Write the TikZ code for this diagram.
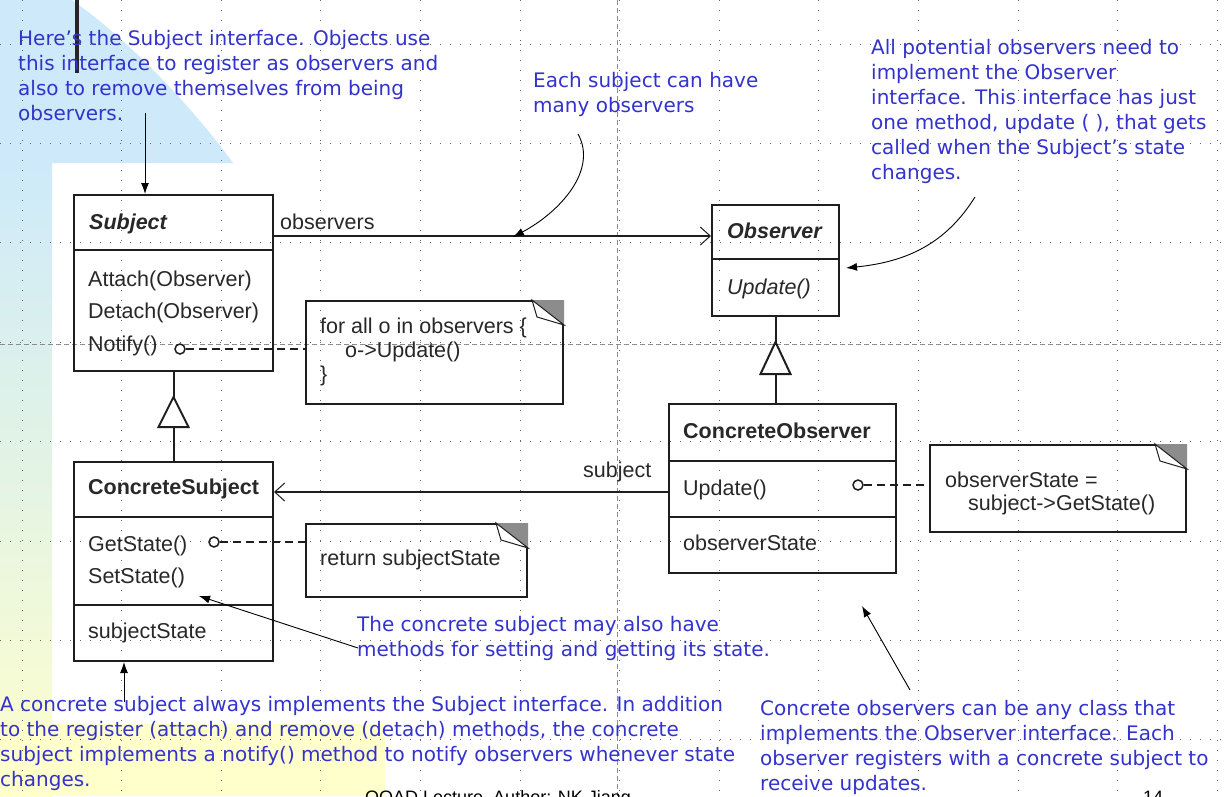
\documentclass[tikz,border=0pt]{standalone}
\usepackage{fontspec}
\setmainfont{Liberation Sans}
\newfontfamily\comicfont{DejaVu Sans}
\usetikzlibrary{arrows.meta,calc}
\definecolor{bgblue}{RGB}{206,234,250}
\definecolor{bgyellow}{RGB}{255,255,204}
\definecolor{bgmid}{RGB}{228,244,228}
\definecolor{notecol}{RGB}{51,51,204}
\definecolor{umlline}{RGB}{30,30,30}
\definecolor{umltext}{RGB}{40,40,40}
\tikzset{
  umlbox/.style={draw=umlline, line width=2pt, inner sep=0pt, anchor=north west},
  notebox/.style={draw=umlline, line width=2pt, inner sep=0pt, anchor=north west},
  umltxt/.style={anchor=base west, inner sep=0pt, text=umltext, font=\fontsize{21.5}{25}\selectfont},
  umlital/.style={umltxt, font=\fontsize{21.5}{25}\selectfont\itshape},
  umltitle/.style={umltxt, font=\fontsize{21.5}{25}\selectfont\bfseries},
  umlabs/.style={umltxt, font=\fontsize{21.5}{25}\selectfont\bfseries\itshape},
  annot/.style={anchor=north west, inner sep=0pt, align=left, text=notecol, font=\comicfont\fontsize{20}{25}\selectfont},
  callout/.style={line width=0.9pt, black, -{Latex[length=11pt,width=8pt]}},
  griddot/.style={line width=1pt, dash pattern=on 1pt off 9pt, black!60},
  guide/.style={line width=0.8pt, dash pattern=on 5pt off 3pt, black!45},
  depline/.style={line width=2pt, dash pattern=on 8pt off 5pt, umlline},
  lollipop/.style={circle, draw=umlline, line width=1.5pt, minimum size=10pt, inner sep=0pt},
  assoc/.style={line width=2pt, umlline, -{Straight Barb[length=10pt,width=18pt,line width=1pt]}},
  comp/.style={line width=2pt, umlline},
}
\newcommand\foldcorner[1]{%
  \fill[black!45] ($(#1.north east)+(-32,0)$) -- (#1.north east) -- ($(#1.north east)+(0,25)$) -- cycle;
  \filldraw[fill=white, draw=umlline, line width=1pt] ($(#1.north east)+(-32,0)$) -- ($(#1.north east)+(-27,17)$) -- ($(#1.north east)+(0,25)$) -- cycle;
}
\begin{document}
\begin{tikzpicture}[x=1pt,y=-1pt]
\useasboundingbox (0,0) rectangle (1224,796);
\clip (0,0) rectangle (1224,796);
% background
\fill[white] (0,0) rectangle (1224,796);
\fill[bgblue] (0,0) -- (72,0) .. controls (129,40) and (193,108) .. (233,163) -- (0,163) -- cycle;
\shade[top color=bgblue, bottom color=bgyellow, middle color=bgmid] (0,163) rectangle (52,796);
\fill[bgyellow] (0,724) rectangle (385,796);
\fill[black!85] (75,0) rectangle (79,73);
% grid
\foreach \i in {0,...,12} \draw[griddot] ({22+99.6*\i},0) -- ({22+99.6*\i},796);
\foreach \j in {0,...,7} \draw[griddot] (0,{44+99.4*\j}) -- (1224,{44+99.4*\j});
\draw[guide] (0,344) -- (1224,344);
\draw[guide] (617,0) -- (617,796);

% Subject
\node[umlbox, minimum width=199pt, minimum height=176pt] (subj) at (73,194) {};
\draw[comp] ($(subj.north west)+(0,56)$) -- ($(subj.north east)+(0,56)$);
\node[umlabs] (subjT) at (89,229) {Subject};
\node[umltxt] (subjA) at (88,286) {Attach(Observer)};
\node[umltxt] (subjD) at (88,318) {Detach(Observer)};
\node[umltxt] (subjN) at (88,351) {Notify()};
\node[lollipop] (subjC) at (180,349) {};
\node[notebox, minimum width=257pt, minimum height=103pt] (note1) at (305,300) {};
\foldcorner{note1}
\draw[depline] (subjC.east) -- (note1.west |- subjC);
\node[umltxt] (n1a) at (320,333) {for all o in observers \{};
\node[umltxt] (n1b) at (345,357) {o->Update()};
\node[umltxt] (n1c) at (320,381) {\}};

% ConcreteSubject
\node[umlbox, minimum width=199pt, minimum height=199pt] (csubj) at (73,461) {};
\draw[comp] ($(csubj.north west)+(0,56)$) -- ($(csubj.north east)+(0,56)$);
\draw[comp] ($(csubj.north west)+(0,144)$) -- ($(csubj.north east)+(0,144)$);
\node[umltitle] (csubjT) at (88,494) {ConcreteSubject};
\node[umltxt] (csubjG) at (88,551) {GetState()};
\node[umltxt] (csubjS) at (88,583) {SetState()};
\node[umltxt] (csubjA) at (88,638) {subjectState};
\node[lollipop] (csubjC) at (214,542) {};
\node[notebox, minimum width=221pt, minimum height=73pt] (note2) at (305,523) {};
\foldcorner{note2}
\draw[depline] (csubjC.east) -- (note2.west |- csubjC);
\node[umltxt] (n2a) at (320,565) {return subjectState};

% Observer
\node[umlbox, minimum width=127pt, minimum height=111pt] (obs) at (711,204) {};
\draw[comp] ($(obs.north west)+(0,55)$) -- ($(obs.north east)+(0,55)$);
\node[umlabs] (obsT) at (727,238) {Observer};
\node[umlital] (obsU) at (727,294) {Update()};

% ConcreteObserver
\node[umlbox, minimum width=227pt, minimum height=169pt] (cobs) at (668,403) {};
\draw[comp] ($(cobs.north west)+(0,58)$) -- ($(cobs.north east)+(0,58)$);
\draw[comp] ($(cobs.north west)+(0,114)$) -- ($(cobs.north east)+(0,114)$);
\node[umltitle] (cobsT) at (683,438) {ConcreteObserver};
\node[umltxt] (cobsU) at (683,495) {Update()};
\node[umltxt] (cobsA) at (683,550) {observerState};
\node[lollipop] (cobsC) at (858,485) {};
\node[notebox, minimum width=256pt, minimum height=87pt] (note3) at (929,444) {};
\foldcorner{note3}
\draw[depline] (cobsC.east) -- (note3.west |- cobsC);
\node[umltxt] (n3a) at (945,487) {observerState =};
\node[umltxt] (n3b) at (968,510) {subject->GetState()};

% generalizations
\draw[comp] (csubj.north) -- (subj.south);
\filldraw[comp, fill=white] ($(subj.south)+(0,25)$) -- ++(15,30) -- ++(-30,0) -- cycle;
\draw[comp] (obs.south |- cobs.north) -- (obs.south);
\filldraw[comp, fill=white] ($(obs.south)+(0,25)$) -- ++(15,32) -- ++(-30,0) -- cycle;

% associations
\draw[assoc] ($(subj.north east)+(0,42)$) -- ($(obs.north west)+(0,32)$);
\node[umltxt] (lblObs) at (280,229) {observers};
\draw[assoc] ($(cobs.north west)+(0,89)$) -- ($(csubj.north east)+(0,31)$);
\node[umltxt] (lblSub) at (583,477) {subject};

% annotations
\node[annot] (a1) at (18,27.5) {\strut Here’s the Subject interface. Objects use\\this interface to register as observers and\\also to remove themselves from being\\observers.};
\node[annot] (a2) at (533,69.5) {\strut Each subject can have\\many observers};
\node[annot] (a3) at (871,36.5) {\strut All potential observers need to\\implement the Observer\\interface. This interface has just\\one method, update ( ), that gets\\called when the Subject’s state\\changes.};
\node[annot] (a4) at (357,613.5) {\strut The concrete subject may also have\\methods for setting and getting its state.};
\node[annot] (a5) at (0,693.5) {\strut A concrete subject always implements the Subject interface. In addition\\to the register (attach) and remove (detach) methods, the concrete\\subject implements a notify() method to notify observers whenever state\\changes.};
\node[annot] (a6) at (760,697.5) {\strut Concrete observers can be any class that\\implements the Observer interface. Each\\observer registers with a concrete subject to\\receive updates.};

% callouts
\coordinate (c1s) at (145,113);
\draw[callout] (c1s) -- (subj.north -| c1s);
\coordinate (c2s) at (578,134);
\coordinate (c2e) at (513,237);
\draw[callout] (c2s) .. controls (598,170) and (560,212) .. (c2e);
\coordinate (c3s) at (975,197);
\coordinate (c3e) at (846,268);
\draw[callout] (c3s) .. controls (945,245) and (905,262) .. (c3e);
\coordinate (c4s) at (358,648);
\coordinate (c4e) at (199,596);
\draw[callout] (c4s) -- (c4e);
\coordinate (c5s) at (124,702);
\draw[callout] (c5s) -- (csubj.south -| c5s);
\coordinate (c6s) at (910,690);
\coordinate (c6e) at (862,606);
\draw[callout] (c6s) -- (c6e);

% footer
\node[anchor=base west, inner sep=0pt, font=\fontsize{18}{20}\selectfont] (foot) at (365,803) {OOAD Lecture, Author: NK Jiang};
\node[anchor=base west, inner sep=0pt, font=\fontsize{18}{20}\selectfont] (pageno) at (1143,803) {14};
\end{tikzpicture}
\end{document}
